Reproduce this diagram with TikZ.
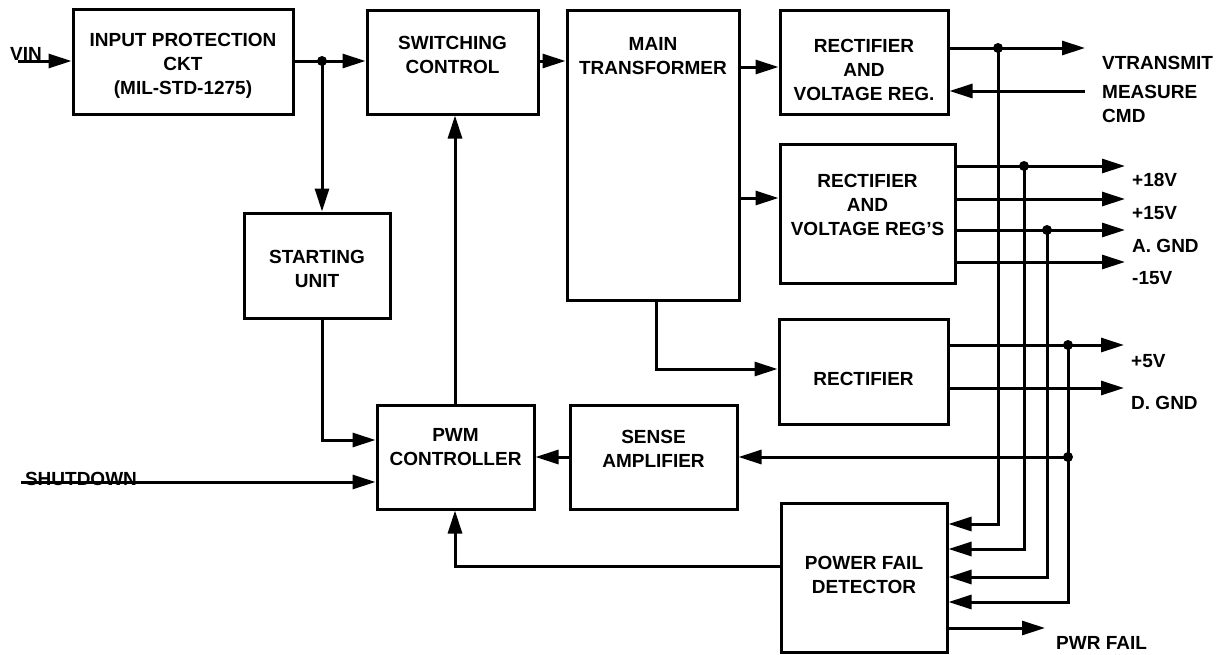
\documentclass[tikz,border=0pt]{standalone}
\usepackage{fontspec}
\setmainfont{Liberation Sans}
\usetikzlibrary{arrows.meta}
\begin{document}
\begin{tikzpicture}[x=1pt,y=-1pt,
  blk/.style={draw, line width=3pt, rectangle, inner sep=0pt},
  txt/.style={font=\fontsize{19pt}{24pt}\selectfont\bfseries, align=center, inner sep=0pt},
  lbl/.style={font=\fontsize{19pt}{24pt}\selectfont\bfseries, align=left, anchor=west, inner sep=0pt},
  wire/.style={line width=3pt},
  arr/.style={wire, -{Triangle[length=23pt,width=14pt]}},
  jdot/.style={circle, fill, inner sep=0pt, minimum size=10pt}]
\useasboundingbox (0,0) rectangle (1227,654);

% blocks
\node[blk, minimum width=220pt, minimum height=105pt] (ipc) at (183,61.5) {};
\node[txt] (ipct) at (183,66) {INPUT PROTECTION\\CKT\\(MIL-STD-1275)};
\node[blk, minimum width=171pt, minimum height=104pt] (sc) at (452.5,62) {};
\node[txt] (sct) at (452.5,55) {SWITCHING\\CONTROL};
\node[blk, minimum width=172pt, minimum height=290pt] (mt) at (653,155) {};
\node[txt] (mtt) at (653,56) {MAIN\\TRANSFORMER};
\node[blk, minimum width=168pt, minimum height=104pt] (r1) at (864,62) {};
\node[txt] (r1t) at (864,70) {RECTIFIER\\AND\\VOLTAGE REG.};
\node[blk, minimum width=175pt, minimum height=139pt] (r2) at (867.5,213.5) {};
\node[txt] (r2t) at (867.5,205) {RECTIFIER\\AND\\VOLTAGE REG'S};
\node[blk, minimum width=169pt, minimum height=105pt] (r3) at (863.5,371.5) {};
\node[txt] (r3t) at (863.5,379) {RECTIFIER};
\node[blk, minimum width=146pt, minimum height=105pt] (su) at (317,265.5) {};
\node[txt] (sut) at (317,268.5) {STARTING\\UNIT};
\node[blk, minimum width=157pt, minimum height=104pt] (pwm) at (455.5,457) {};
\node[txt] (pwmt) at (455.5,447) {PWM\\CONTROLLER};
\node[blk, minimum width=167pt, minimum height=104pt] (sa) at (653.5,457) {};
\node[txt] (sat) at (653.5,449) {SENSE\\AMPLIFIER};
\node[blk, minimum width=166pt, minimum height=149pt] (pfd) at (864,577.5) {};
\node[txt] (pfdt) at (864,575) {POWER FAIL\\DETECTOR};

% labels
\node[txt] (vinl) at (26,54) {VIN};
\node[txt] (sdl) at (81,478.5) {SHUTDOWN};
\node[lbl] (vtl) at (1102,63) {VTRANSMIT};
\node[lbl] (mcl) at (1102,104) {MEASURE\\CMD};
\node[lbl] (l18) at (1132,180) {+18V};
\node[lbl] (l15) at (1132,213) {+15V};
\node[lbl] (lag) at (1132,246) {A. GND};
\node[lbl] (l15n) at (1132,278) {-15V};
\node[lbl] (l5) at (1131,361) {+5V};
\node[lbl] (ldg) at (1131,403) {D. GND};
\node[lbl] (lpf) at (1056,643) {PWR FAIL};

% junction dots
\node[jdot] (j1) at (322,61) {};
\node[jdot] (d1) at (998,48) {};
\node[jdot] (d2) at (1024,166) {};
\node[jdot] (d3) at (1047,230) {};
\node[jdot] (d4) at (1068,345) {};
\node[jdot] (d5) at (1068,457) {};

% free ends and bends
\coordinate (vin) at (18,61);
\coordinate (sd) at (21,482);
\coordinate (t1) at (0,67);
\coordinate (t2) at (0,198);
\coordinate (b3) at (656,369);
\coordinate (vt) at (1085,48);
\coordinate (mc) at (1085,91);
\coordinate (o18) at (1125,166);
\coordinate (o15) at (1125,199);
\coordinate (oag) at (1125,230);
\coordinate (o15n) at (1125,262);
\coordinate (o5) at (1124,345);
\coordinate (odg) at (1124,388);
\coordinate (p1) at (998,524);
\coordinate (p2) at (1024,549);
\coordinate (p3) at (1047,577);
\coordinate (p4) at (1068,602);
\coordinate (pf) at (1045,628);
\coordinate (sb) at (322,440);
\coordinate (fb) at (455,566);

% connectors
\draw[arr] (vin) -- (vin -| ipc.west);
\draw[wire] (ipc.east |- j1) -- (j1.center);
\draw[arr] (j1.center) -- (j1 -| sc.west);
\draw[arr] (j1.center) -- (j1 |- su.north);
\draw[arr] (sc.east |- j1) -- (j1 -| mt.west);
\draw[arr] (mt.east |- t1) -- (r1.west |- t1);
\draw[arr] (mt.east |- t2) -- (r2.west |- t2);
\draw[arr] (mt.south -| b3) -- (b3) -- (b3 -| r3.west);
\draw[arr] (r1.east |- vt) -- (vt);
\draw[arr] (mc) -- (mc -| r1.east);
\draw[arr] (r2.east |- o18) -- (o18);
\draw[arr] (r2.east |- o15) -- (o15);
\draw[arr] (r2.east |- oag) -- (oag);
\draw[arr] (r2.east |- o15n) -- (o15n);
\draw[arr] (r3.east |- o5) -- (o5);
\draw[arr] (r3.east |- odg) -- (odg);
\draw[arr] (d1.center) -- (p1) -- (p1 -| pfd.east);
\draw[arr] (d2.center) -- (p2) -- (p2 -| pfd.east);
\draw[arr] (d3.center) -- (p3) -- (p3 -| pfd.east);
\draw[arr] (d4.center) -- (p4) -- (p4 -| pfd.east);
\draw[arr] (d5.center) -- (d5 -| sa.east);
\draw[arr] (sa.west) -- (pwm.east);
\draw[arr] (pwm.north -| fb) -- (sc.south -| fb);
\draw[arr] (su.south -| sb) -- (sb) -- (sb -| pwm.west);
\draw[arr] (sd) -- (sd -| pwm.west);
\draw[arr] (pfd.west |- fb) -- (fb) -- (pwm.south -| fb);
\draw[arr] (pfd.east |- pf) -- (pf);
\end{tikzpicture}
\end{document}
